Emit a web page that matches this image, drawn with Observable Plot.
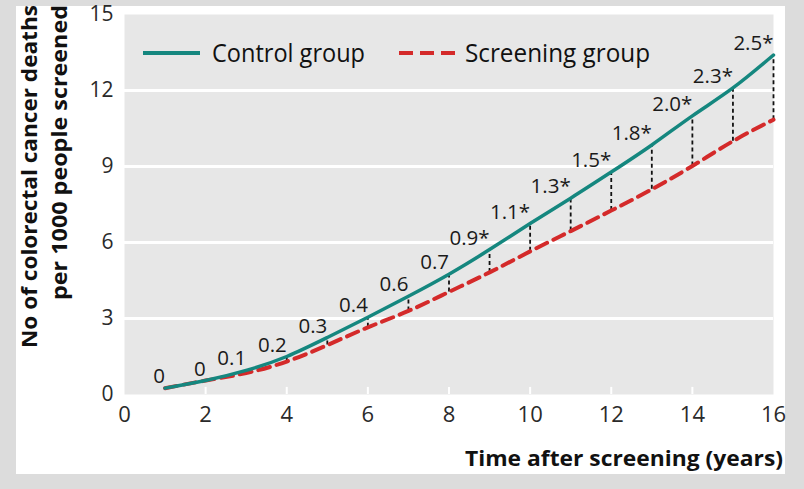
<!DOCTYPE html>
<html><head><meta charset="utf-8">
<script src="https://cdn.jsdelivr.net/npm/d3@7"></script>
<script src="https://cdn.jsdelivr.net/npm/@observablehq/plot@0.6"></script>
<style>
html,body{margin:0;padding:0;background:#dcdcdc;}
#wrap{position:relative;width:804px;height:489px;overflow:hidden;background:#dcdcdc;}
#panel{position:absolute;left:16px;top:6px;width:769px;height:468px;background:#fff;}
#chart{position:absolute;left:0;top:0;}
#overlay{position:absolute;left:0;top:0;}
</style>
</head><body>
<div id="wrap"><div id="panel"></div><div id="chart"></div>
<svg id="overlay" width="804" height="489"></svg></div>
<script>
// Data
const years = [1,2,3,4,5,6,7,8,9,10,11,12,13,14,15,16];
const control = [0.25,0.55,0.95,1.5,2.25,3.05,3.88,4.75,5.72,6.75,7.75,8.78,9.85,11.0,12.1,13.4];
const screening = [0.25,0.55,0.85,1.3,1.95,2.65,3.3,4.05,4.82,5.65,6.45,7.26,8.1,9.02,10.0,10.85];
const diffLabels = ["0","0","0.1","0.2","0.3","0.4","0.6","0.7","0.9*","1.1*","1.3*","1.5*","1.8*","2.0*","2.3*","2.5*"];
const xTicks = [0,2,4,6,8,10,12,14,16];
const yTicks = [0,3,6,9,12,15];
const gridY = [3,6,9,12];
const seriesNames = ["Control group","Screening group"];
const yTitle = ["No of colorectal cancer deaths","per 1000 people screened"];
const xTitle = "Time after screening (years)";

const TEAL = "#15877f", RED = "#d42a2a";
const data = years.map((y,i)=>({year:y, control:control[i], screening:screening[i], label:diffLabels[i]}));

const chart = Plot.plot({
  width:804, height:489,
  marginLeft:124, marginRight:31, marginTop:14, marginBottom:95,
  style:{background:"transparent", fontFamily:"'Open Sans', sans-serif", color:"#222", overflow:"visible"},
  x:{domain:[0,16], ticks:xTicks, label:null},
  y:{domain:[0,15], ticks:yTicks, label:null},
  marks:[
    Plot.frame({fill:"#e7e7e7", stroke:"none"}),
    Plot.ruleY(gridY, {stroke:"#fff", strokeWidth:3}),
    Plot.ruleX(xTicks.slice(1,-1), {y1:0, y2:0.28, stroke:"#fff", strokeWidth:2}),
    Plot.axisX({ticks:xTicks, tickSize:0, tickPadding:12, fontSize:22, label:null, fill:"#2a2a2a"}),
    Plot.axisY({ticks:yTicks, tickSize:0, tickPadding:11, fontSize:21, label:null, fill:"#2a2a2a"}),
    Plot.ruleX(data, {x:"year", y1:"screening", y2:"control", stroke:"#111", strokeWidth:1.8, strokeDasharray:"4,3"}),
    Plot.line(data, {x:"year", y:"screening", stroke:RED, strokeWidth:4, strokeDasharray:"12,7", curve:"natural"}),
    Plot.line(data, {x:"year", y:"control", stroke:TEAL, strokeWidth:3.5, curve:"natural"}),
    Plot.text(data, {x:"year", y:"control", text:"label", textAnchor:"end", lineAnchor:"bottom", dx:0, dy:-5, fontSize:20.5, fill:"#1a1a1a"})
  ]
});
document.getElementById("chart").appendChild(chart);

// Titles and legend
const ov = d3.select("#overlay");
const ff = "'Open Sans', sans-serif";
[[28,yTitle[0],343],[58,yTitle[1],295]].forEach(([cx,t,len])=>{
  ov.append("text").attr("transform",`translate(${cx},5) rotate(-90)`)
    .attr("text-anchor","end").attr("dominant-baseline","central")
    .attr("font-family",ff).attr("font-weight","bold").attr("font-size",22).attr("fill","#111")
    .attr("textLength",len).attr("lengthAdjust","spacingAndGlyphs").text(t);
});
ov.append("text").attr("x",465).attr("y",466)
  .attr("font-family",ff).attr("font-weight","bold").attr("font-size",22).attr("fill","#111")
  .attr("textLength",318).attr("lengthAdjust","spacingAndGlyphs").text(xTitle);
ov.append("line").attr("x1",143).attr("x2",200).attr("y1",53).attr("y2",53)
  .attr("stroke",TEAL).attr("stroke-width",4);
ov.append("text").attr("x",212).attr("y",62).attr("font-family",ff).attr("font-size",25).attr("fill","#111")
  .attr("textLength",153).attr("lengthAdjust","spacingAndGlyphs").text(seriesNames[0]);
ov.append("line").attr("x1",399).attr("x2",456).attr("y1",53).attr("y2",53)
  .attr("stroke",RED).attr("stroke-width",4).attr("stroke-dasharray","14,7");
ov.append("text").attr("x",465).attr("y",62).attr("font-family",ff).attr("font-size",25).attr("fill","#111")
  .attr("textLength",185).attr("lengthAdjust","spacingAndGlyphs").text(seriesNames[1]);
</script>
</body></html>
